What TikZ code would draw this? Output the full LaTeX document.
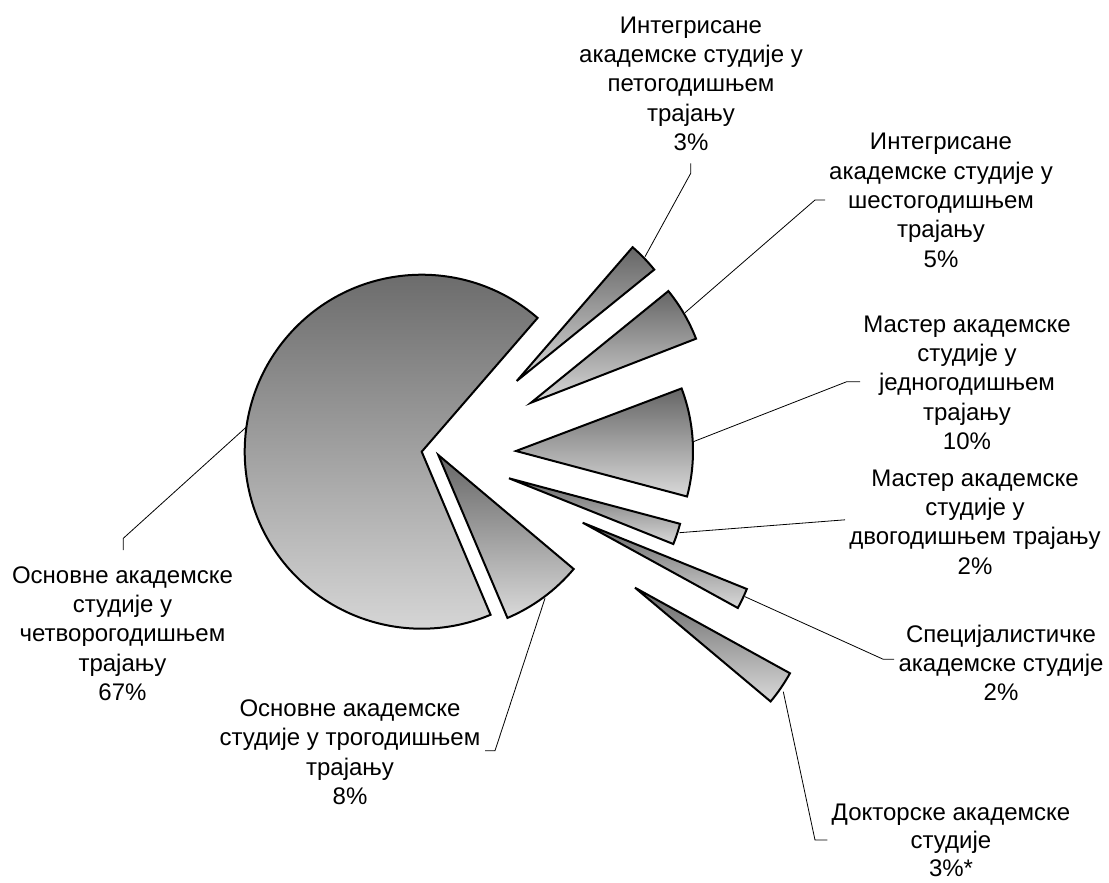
\documentclass[tikz,border=0pt]{standalone}
\usepackage{fontspec}
\setmainfont{Liberation Sans}
\tikzset{every picture/.style={line width=0.75pt}}
\tikzset{
	slice/.style={draw=black, line width=1.5pt, top color={rgb, 255:red, 102; green, 102; blue, 102}, bottom color={rgb, 255:red, 217; green, 217; blue, 217}},
	leader/.style={draw=black, line width=0.6pt},
	sharetext/.style={anchor=north, inner sep=0pt, align=center, font=\fontsize{18}{22}\selectfont}}

\begin{document}
\begin{tikzpicture}[x=0.75pt,y=0.75pt,yscale=-1,xscale=1]
	\useasboundingbox (0,0) rectangle (1109,882);

	%Shape: Pie slice 67%
	\draw [slice] (421.7,451.7) -- ++(-49.1:177) arc [start angle=-49.1, end angle=-292.9, radius=177] -- cycle ;
	%Shape: Pie slice 3% (five years)
	\draw [slice] (516.7,381) -- ++(-49.1:177) arc [start angle=-49.1, end angle=-39.0, radius=177] -- cycle ;
	%Shape: Pie slice 5%
	\draw [slice] (531,402.7) -- ++(-39.1:177) arc [start angle=-39.1, end angle=-21.2, radius=177] -- cycle ;
	%Shape: Pie slice 10%
	\draw [slice] (516,451) -- ++(-20.7:177) arc [start angle=-20.7, end angle=14.9, radius=177] -- cycle ;
	%Shape: Pie slice 2% (master)
	\draw [slice] (509,478.3) -- ++(14.9:177) arc [start angle=14.9, end angle=21.8, radius=177] -- cycle ;
	%Shape: Pie slice 2% (special)
	\draw [slice] (582.7,522.7) -- ++(22.0:177) arc [start angle=22.0, end angle=28.8, radius=177] -- cycle ;
	%Shape: Pie slice 3% (doctoral)
	\draw [slice] (635,587.7) -- ++(28.9:177) arc [start angle=28.9, end angle=40.0, radius=177] -- cycle ;
	%Shape: Pie slice 8%
	\draw [slice] (438.3,455) -- ++(40.1:177) arc [start angle=40.1, end angle=67.0, radius=177] -- cycle ;

	%Leader points
	\coordinate (arcBig) at (246.7,426.7) ; \coordinate (kneeBig) at (123.3,538.3) ; \coordinate (endBig) at (123.3,550) ;
	\coordinate (arcA) at (645,256.7) ; \coordinate (kneeA) at (690.7,173.3) ; \coordinate (endA) at (690.7,163.3) ;
	\coordinate (arcB) at (685,312.7) ; \coordinate (kneeB) at (815,200) ; \coordinate (endB) at (825,200) ;
	\coordinate (arcC) at (693.3,441.7) ; \coordinate (kneeC) at (846.7,381.7) ; \coordinate (endC) at (860,381.7) ;
	\coordinate (arcD) at (679.3,532.7) ; \coordinate (endD) at (845,519.8) ;
	\coordinate (arcE) at (745,596.7) ; \coordinate (kneeE) at (883.3,659.3) ; \coordinate (endE) at (894,659.3) ;
	\coordinate (arcF) at (783.3,691.7) ; \coordinate (kneeF) at (815,840) ; \coordinate (endF) at (827.3,840) ;
	\coordinate (arcG) at (545,598.3) ; \coordinate (kneeG) at (495,750.7) ; \coordinate (endG) at (485,750.7) ;

	%Straight Lines
	\draw [leader] (arcBig) -- (kneeBig) -- (endBig) ;
	\draw [leader] (arcA) -- (kneeA) -- (endA) ;
	\draw [leader] (arcB) -- (kneeB) -- (endB) ;
	\draw [leader] (arcC) -- (kneeC) -- (endC) ;
	\draw [leader] (arcD) -- (endD) ;
	\draw [leader] (arcE) -- (kneeE) -- (endE) ;
	\draw [leader] (arcF) -- (kneeF) -- (endF) ;
	\draw [leader] (arcG) -- (kneeG) -- (endG) ;

	% Text Node
	\draw (122.5,566) node [sharetext] (labBig) {Основне академске\\студије у\\четворогодишњем\\трајању\\67\%};
	% Text Node
	\draw (691,16) node [sharetext] (labA) {Интегрисане\\академске студије у\\петогодишњем\\трајању\\3\%};
	% Text Node
	\draw (941,132.7) node [sharetext] (labB) {Интегрисане\\академске студије у\\шестогодишњем\\трајању\\5\%};
	% Text Node
	\draw (967,315) node [sharetext] (labC) {Мастер академске\\студије у\\једногодишњем\\трајању\\10\%};
	% Text Node
	\draw (975,469.3) node [sharetext] (labD) {Мастер академске\\студије у\\двогодишњем трајању\\2\%};
	% Text Node
	\draw (1001,624.3) node [sharetext] (labE) {Специјалистичке\\академске студије\\2\%};
	% Text Node
	\draw (951,803) node [sharetext, font=\fontsize{18}{21}\selectfont] (labF) {Докторске академске\\студије\\3\%*};
	% Text Node
	\draw (350,699.3) node [sharetext] (labG) {Основне академске\\студије у трогодишњем\\трајању\\8\%};

\end{tikzpicture}
\end{document}
